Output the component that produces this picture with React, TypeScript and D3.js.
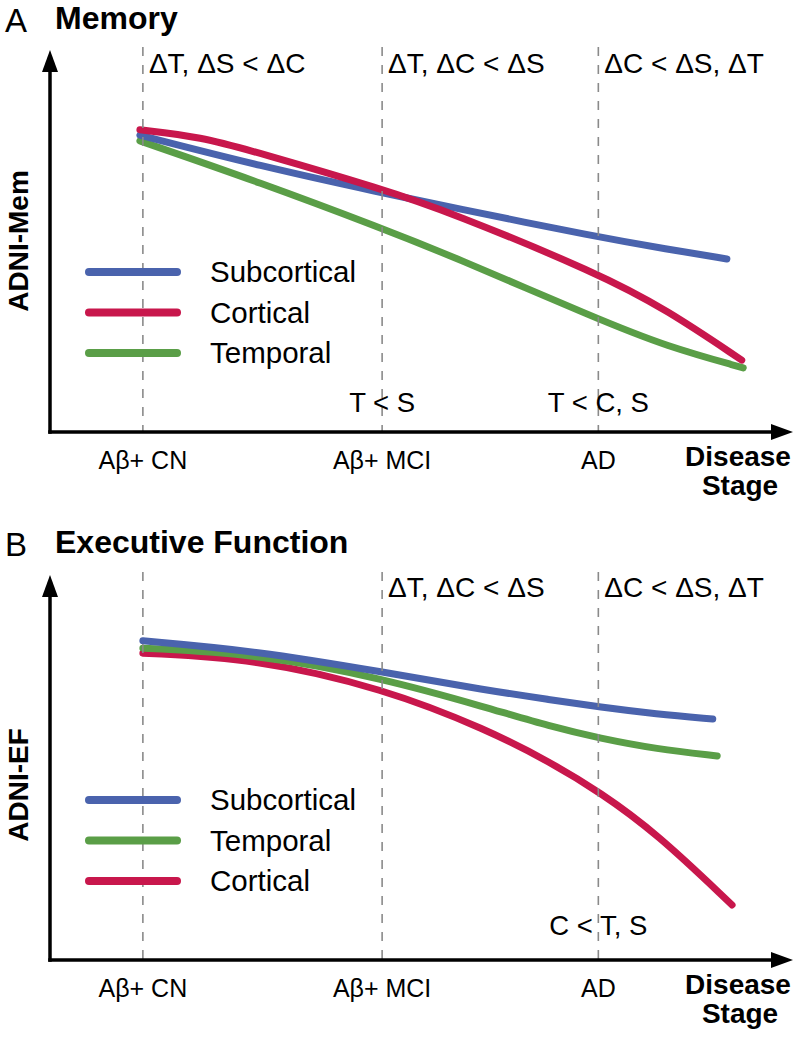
import React from "react";
import * as d3 from "d3";

// ---------- data ----------
const stageLabels = ["Aβ+ CN", "Aβ+ MCI", "AD"];
const stagePositions = [12.5, 44.7, 73.8];

const seriesColors: Record<string, string> = {
  Subcortical: "#4a63ad",
  Cortical: "#c8174c",
  Temporal: "#5a9e47",
};

// Panel A – Memory (x: disease progression 0-100, y: score 0-100)
const memSubcortical: [number, number][] = [
  [12.1, 77.7], [28.3, 69.6], [44.7, 62.6], [53.8, 58.9], [73.8, 51.0], [83.0, 47.9], [91.1, 45.3],
];
const memCortical: [number, number][] = [
  [12.1, 79.1], [20.2, 77.3], [28.3, 73.0], [44.7, 63.6], [53.8, 57.6], [73.8, 41.5], [83.0, 32.0], [93.1, 18.8],
];
const memTemporal: [number, number][] = [
  [12.1, 76.2], [28.3, 65.3], [44.7, 53.3], [53.8, 46.3], [73.8, 29.5], [83.0, 22.4], [93.3, 16.8],
];

// Panel B – Executive Function
const efSubcortical: [number, number][] = [
  [12.5, 82.9], [27.7, 80.3], [44.8, 74.8], [58.9, 70.0], [67.4, 67.6], [74.0, 65.7], [81.6, 63.9], [89.2, 62.6],
];
const efTemporal: [number, number][] = [
  [12.5, 81.0], [27.7, 79.5], [44.8, 73.2], [58.9, 65.5], [67.4, 60.6], [74.0, 57.6], [81.6, 54.8], [89.8, 53.0],
];
const efCortical: [number, number][] = [
  [12.5, 79.7], [27.7, 78.2], [44.8, 70.6], [58.9, 59.8], [67.4, 51.3], [74.0, 43.6], [81.6, 33.0], [91.8, 14.3],
];

const memTopNotes = ["ΔT, ΔS < ΔC", "ΔT, ΔC < ΔS", "ΔC < ΔS, ΔT"];
const memBottomNotes = ["", "T < S", "T < C, S"];
const efTopNotes = ["", "ΔT, ΔC < ΔS", "ΔC < ΔS, ΔT"];
const efBottomNotes = ["", "", "C < T, S"];

const memLegend = ["Subcortical", "Cortical", "Temporal"];
const efLegend = ["Subcortical", "Temporal", "Cortical"];

// ---------- layout ----------
const W = 796;
const H = 1043;
const FONT = "'Liberation Sans', Arial, Helvetica, sans-serif";
const xAxisLeft = 50;
const xAxisRight = 793;

const x = d3.scaleLinear().domain([0, 100]).range([xAxisLeft, xAxisRight]);

type PanelProps = {
  letter: string;
  title: string;
  yLabel: string;
  top: number;
  axisY: number;
  titleBaseline: number;
  topNoteBaseline: number;
  bottomNoteBaseline: number;
  yLabelCenter: number;
  series: { name: string; data: [number, number][] }[];
  legend: string[];
  topNotes: string[];
  bottomNotes: string[];
};

function Panel(p: PanelProps) {
  const y = d3.scaleLinear().domain([0, 100]).range([p.axisY, p.top]);
  const line = d3
    .line<[number, number]>()
    .x((d) => x(d[0]))
    .y((d) => y(d[1]))
    .curve(d3.curveBasis);

  const legendY0 = p.axisY - 160;
  const legendStep = 40.5;

  return (
    <g>
      <text x={5} y={p.titleBaseline + 3} fontSize={33} fontFamily={FONT}>
        {p.letter}
      </text>
      <text x={55} y={p.titleBaseline} fontSize={32} fontWeight="bold" fontFamily={FONT}>
        {p.title}
      </text>

      {p.series.map((s) => (
        <path
          key={s.name}
          d={line(s.data) || ""}
          fill="none"
          stroke={seriesColors[s.name]}
          strokeWidth={7}
          strokeLinecap="round"
        />
      ))}

      {stagePositions.map((sp, i) => (
        <line
          key={i}
          x1={x(sp)}
          x2={x(sp)}
          y1={p.top - 3}
          y2={p.axisY}
          stroke="#8a8a8a"
          strokeWidth={1.6}
          strokeDasharray="9,9"
        />
      ))}

      <line x1={xAxisLeft} x2={xAxisLeft} y1={p.axisY + 1.75} y2={p.top + 18} stroke="#000" strokeWidth={3.5} />
      <path
        d={`M${xAxisLeft},${p.top} L${xAxisLeft - 8},${p.top + 22} L${xAxisLeft + 8},${p.top + 22} Z`}
        fill="#000"
      />
      <line x1={xAxisLeft - 1.75} x2={xAxisRight - 18} y1={p.axisY} y2={p.axisY} stroke="#000" strokeWidth={3.5} />
      <path
        d={`M${xAxisRight},${p.axisY} L${xAxisRight - 22},${p.axisY - 8} L${xAxisRight - 22},${p.axisY + 8} Z`}
        fill="#000"
      />

      {p.topNotes.map((t, i) =>
        t ? (
          <text key={i} x={x(stagePositions[i]) + 6} y={p.topNoteBaseline} fontSize={28} fontFamily={FONT}>
            {t}
          </text>
        ) : null
      )}
      {p.bottomNotes.map((t, i) =>
        t ? (
          <text
            key={i}
            x={x(stagePositions[i])}
            y={p.bottomNoteBaseline}
            fontSize={27.5}
            textAnchor="middle"
            fontFamily={FONT}
          >
            {t}
          </text>
        ) : null
      )}

      {stageLabels.map((t, i) => (
        <text
          key={t}
          x={x(stagePositions[i])}
          y={p.axisY + 37}
          fontSize={25}
          textAnchor="middle"
          fontFamily={FONT}
        >
          {t}
        </text>
      ))}

      <text x={738} y={p.axisY + 34} fontSize={28} fontWeight="bold" textAnchor="middle" fontFamily={FONT}>
        Disease
      </text>
      <text x={740} y={p.axisY + 63} fontSize={28} fontWeight="bold" textAnchor="middle" fontFamily={FONT}>
        Stage
      </text>

      <text
        transform={`translate(28,${p.yLabelCenter}) rotate(-90)`}
        fontSize={28}
        fontWeight="bold"
        textAnchor="middle"
        fontFamily={FONT}
      >
        {p.yLabel}
      </text>

      {p.legend.map((name, i) => (
        <g key={name}>
          <line
            x1={89}
            x2={177}
            y1={legendY0 + i * legendStep}
            y2={legendY0 + i * legendStep}
            stroke={seriesColors[name]}
            strokeWidth={8}
            strokeLinecap="round"
          />
          <text x={210} y={legendY0 + i * legendStep + 10} fontSize={29.5} fontFamily={FONT}>
            {name}
          </text>
        </g>
      ))}
    </g>
  );
}

export default function App() {
  return (
    <svg width={W} height={H} style={{ position: "absolute", left: 0, top: 0, background: "#fff" }}>
      <rect width={W} height={H} fill="#fff" />
      <Panel
        letter="A"
        title="Memory"
        yLabel="ADNI-Mem"
        top={50}
        axisY={432}
        titleBaseline={29}
        topNoteBaseline={73}
        bottomNoteBaseline={412}
        yLabelCenter={241}
        series={[
          { name: "Temporal", data: memTemporal },
          { name: "Subcortical", data: memSubcortical },
          { name: "Cortical", data: memCortical },
        ]}
        legend={memLegend}
        topNotes={memTopNotes}
        bottomNotes={memBottomNotes}
      />
      <Panel
        letter="B"
        title="Executive Function"
        yLabel="ADNI-EF"
        top={575}
        axisY={960}
        titleBaseline={553}
        topNoteBaseline={597}
        bottomNoteBaseline={935}
        yLabelCenter={785}
        series={[
          { name: "Cortical", data: efCortical },
          { name: "Temporal", data: efTemporal },
          { name: "Subcortical", data: efSubcortical },
        ]}
        legend={efLegend}
        topNotes={efTopNotes}
        bottomNotes={efBottomNotes}
      />
    </svg>
  );
}
